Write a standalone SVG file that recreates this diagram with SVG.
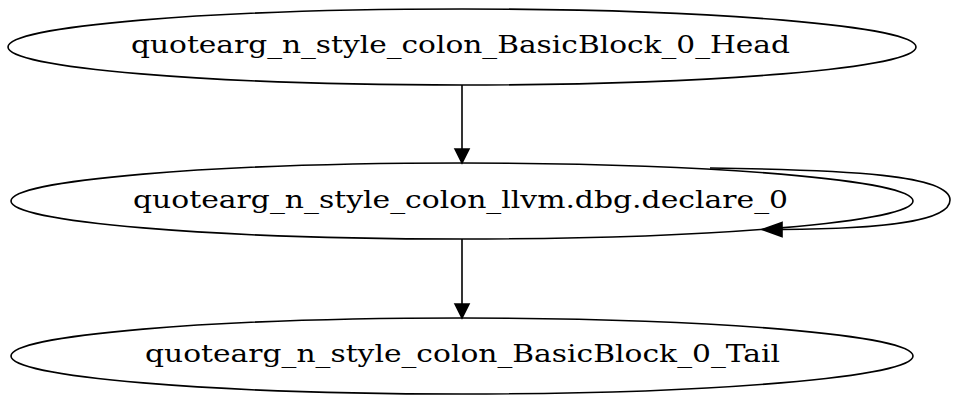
<svg xmlns="http://www.w3.org/2000/svg" width="960" height="402" viewBox="0 0 960 402">
<style>
.node ellipse{fill:none;stroke:#000;stroke-width:1.6}
.node text{font-family:"DejaVu Serif","Liberation Serif",serif;font-size:25px;fill:#000;text-anchor:middle}
.edge path{fill:none;stroke:#000;stroke-width:1.6}
.edge polygon{fill:#000;stroke:#000;stroke-width:1.6}
</style>
<rect width="960" height="402" fill="#fff"/>
<g id="node_head" class="node">
<ellipse cx="462" cy="47" rx="454" ry="38"/>
<text x="460.5" y="53" textLength="659" lengthAdjust="spacingAndGlyphs">quotearg_n_style_colon_BasicBlock_0_Head</text>
</g>
<g id="node_declare" class="node">
<ellipse cx="462" cy="201" rx="451" ry="38"/>
<text x="460.5" y="208" textLength="655" lengthAdjust="spacingAndGlyphs">quotearg_n_style_colon_llvm.dbg.declare_0</text>
</g>
<g id="node_tail" class="node">
<ellipse cx="462" cy="356" rx="451" ry="38"/>
<text x="462.5" y="362" textLength="635" lengthAdjust="spacingAndGlyphs">quotearg_n_style_colon_BasicBlock_0_Tail</text>
</g>
<g id="edges">
<g class="edge">
<path d="M462,85 L462,149"/>
<polygon points="455,149 462,163 469,149"/>
</g>
<g class="edge">
<path d="M710,168 C850,170 950,175 950,200 C950,222 880,229 782,229.5"/>
<polygon points="782,222.5 762,229.5 782,236.5"/>
</g>
<g class="edge">
<path d="M462,239 L462,304"/>
<polygon points="455,304 462,318 469,304"/>
</g>
</g>
</svg>
